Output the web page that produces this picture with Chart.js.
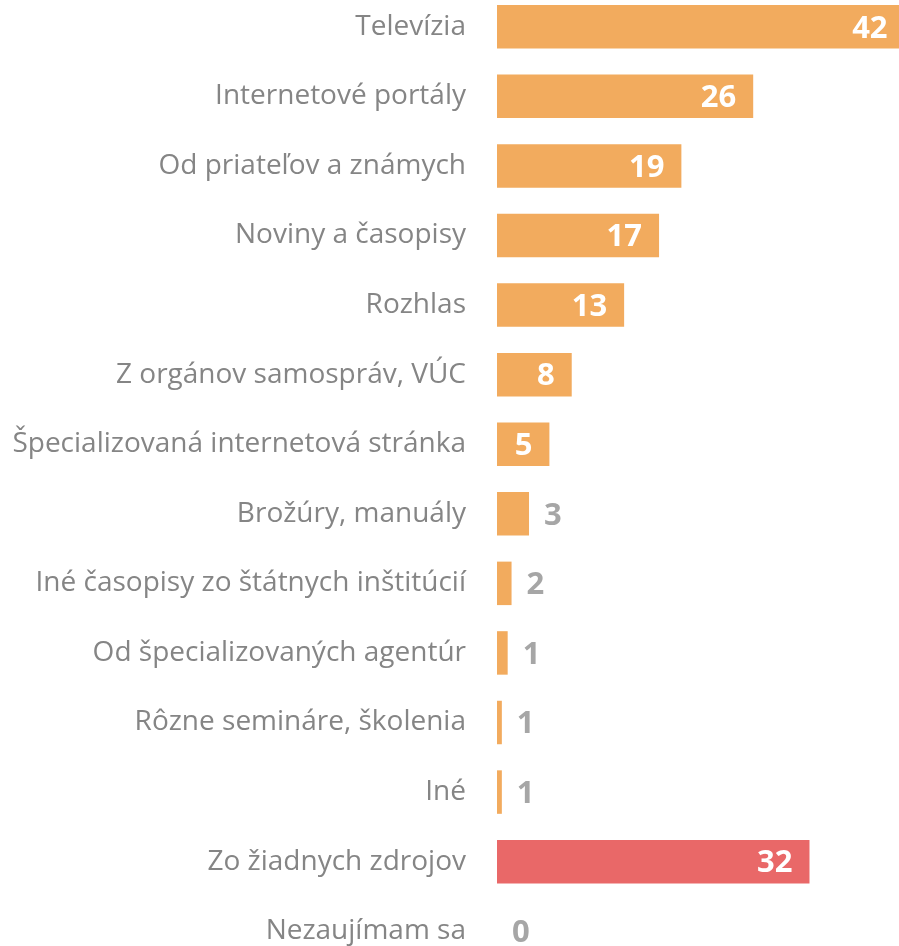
<!DOCTYPE html>
<html>
<head>
<meta charset="utf-8">
<script src="https://cdn.jsdelivr.net/npm/chart.js@4/dist/chart.umd.min.js"></script>
<style>
  html, body { margin: 0; padding: 0; background: #fff; overflow: hidden; width: 899px; height: 946px; }
  #wrap { position: absolute; left: 0; top: -8px; width: 924px; height: 974px; }
</style>
</head>
<body>
<div id="wrap"><canvas id="sourcesChart"></canvas></div>
<script>
// Categories (top to bottom)
const categories = [
    'Televízia',
    'Internetové portály',
    'Od priateľov a známych',
    'Noviny a časopisy',
    'Rozhlas',
    'Z orgánov samospráv, VÚC',
    'Špecializovaná internetová stránka',
    'Brožúry, manuály',
    'Iné časopisy zo štátnych inštitúcií',
    'Od špecializovaných agentúr',
    'Rôzne semináre, školenia',
    'Iné',
    'Zo žiadnych zdrojov',
    'Nezaujímam sa'
];

// Bar lengths (labels show rounded values)
const values = [42.0, 26.4, 19.0, 16.7, 13.1, 7.7, 5.4, 3.3, 1.5, 1.1, 0.5, 0.5, 32.2, 0];
const shownValues = [42, 26, 19, 17, 13, 8, 5, 3, 2, 1, 1, 1, 32, 0];

const ORANGE = '#f2ab5e';
const RED = '#e96868';
const barColors = categories.map((c, i) => i === 12 ? RED : ORANGE);

// value labels: inside the bar when it fits, otherwise just after it
const valueLabels = {
    id: 'valueLabels',
    afterDatasetsDraw(chart) {
        const ctx = chart.ctx;
        const meta = chart.getDatasetMeta(0);
        ctx.save();
        ctx.font = 'bold 31px "Open Sans"';
        ctx.textBaseline = 'middle';
        meta.data.forEach((bar, i) => {
            const text = String(shownValues[i]);
            const width = bar.x - bar.base;
            if (width > 45) {
                ctx.fillStyle = '#ffffff';
                ctx.textAlign = 'right';
                ctx.fillText(text, bar.x - 17, bar.y + 2);
            } else {
                ctx.fillStyle = '#a6a6a6';
                ctx.textAlign = 'left';
                ctx.fillText(text, bar.x + 15, bar.y + 2);
            }
        });
        ctx.restore();
    }
};

const ctx = document.getElementById('sourcesChart').getContext('2d');
new Chart(ctx, {
    type: 'bar',
    data: {
        labels: categories,
        datasets: [{
            data: values,
            backgroundColor: barColors,
            borderWidth: 0,
            categoryPercentage: 1.0,
            barPercentage: 0.625
        }]
    },
    options: {
        indexAxis: 'y',
        responsive: true,
        maintainAspectRatio: false,
        animation: false,
        layout: { padding: 0 },
        plugins: {
            legend: { display: false },
            tooltip: { enabled: false }
        },
        scales: {
            x: {
                display: false,
                min: 0,
                max: 44
            },
            y: {
                grid: { display: false, drawTicks: false },
                border: { display: false },
                ticks: {
                    color: '#858585',
                    padding: 31,
                    font: { family: '"Open Sans"', size: 28 }
                },
                afterFit(scale) {
                    // fixed label column, no extra top/bottom padding
                    scale.width = 497;
                    scale.paddingTop = 0;
                    scale.paddingBottom = 0;
                }
            }
        }
    },
    plugins: [valueLabels]
});
</script>
</body>
</html>
